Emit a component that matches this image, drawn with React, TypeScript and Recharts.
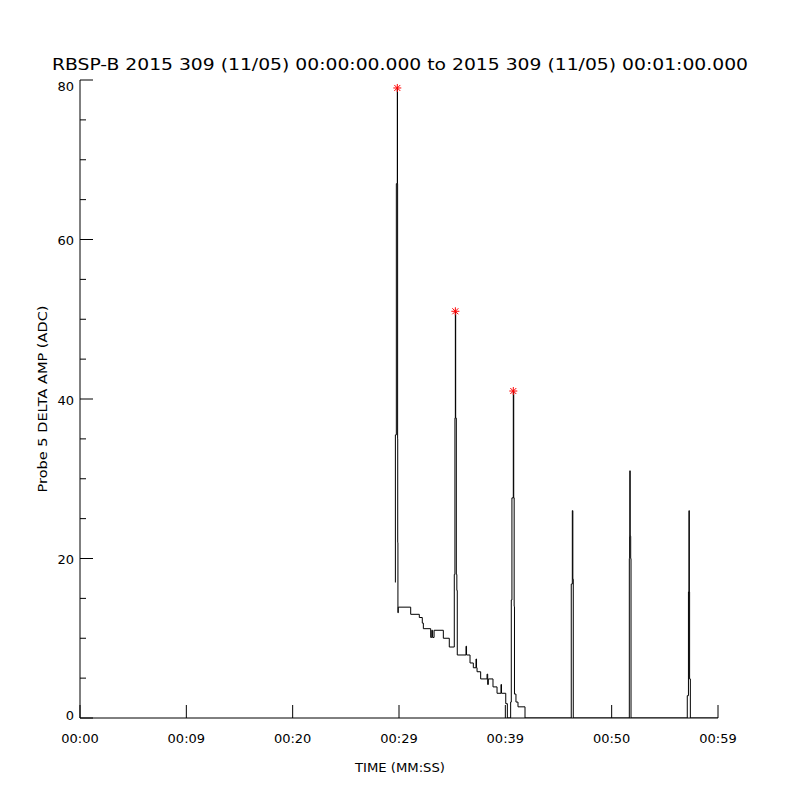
import { ComposedChart, Line, Scatter, XAxis, YAxis } from 'recharts';

const TITLE = 'RBSP-B 2015 309 (11/05) 00:00:00.000 to 2015 309 (11/05) 00:01:00.000';
const X_TITLE = 'TIME (MM:SS)';
const Y_TITLE = 'Probe 5 DELTA AMP (ADC)';

const timeTicks = [0, 10, 20, 30, 40, 50, 60];
const timeLabels = ['00:00', '00:09', '00:20', '00:29', '00:39', '00:50', '00:59'];
const ampTicks = [0, 5, 10, 15, 20, 25, 30, 35, 40, 45, 50, 55, 60, 65, 70, 75, 80];

// seconds since 00:00:00 and amplitude (ADC)
const sampleTimes = [
  29.65, 29.66, 29.75, 29.84, 29.86, 29.87, 29.88, 29.9, 29.93, 31.1,
  31.91, 32.19, 32.29, 32.98, 33.08, 33.16, 33.3, 34.17, 34.73, 35.2,
  35.26, 35.3, 35.33, 35.39, 35.44, 35.48, 36.3, 36.35, 36.68, 36.99,
  37.24, 37.29, 37.34, 37.68, 38.28, 38.34, 38.4, 38.84, 39.22, 39.59,
  39.64, 40.04, 40.19, 40.5, 40.56, 40.62, 40.75, 40.79, 40.83, 40.86,
  41.0, 41.19, 41.85, 46.2, 46.3, 46.35, 46.39, 51.66, 51.69, 51.71,
  51.74, 51.79, 51.82, 57.11, 57.22, 57.27, 57.3, 57.33, 57.4, 60,
];
const sampleAmps = [
  17, 35.5, 67, 79, 67, 35, 22, 13.2, 13.9, 13.0,
  12.6, 11.9, 11.2, 10.1, 11.0, 10.1, 11.0, 10.0, 8.9, 18,
  37.6, 51, 37.6, 18, 16, 7.9, 9.0, 7.9, 6.9, 6.3,
  7.4, 6.3, 5.8, 4.9, 5.5, 4.2, 4.9, 3.9, 3.1, 4.2,
  3.1, 1.8, 0, 2, 14.8, 27.6, 41, 27.6, 14, 3,
  2.0, 1.4, 0, 16.8, 26, 17.4, 0, 20, 22.8, 31,
  22.8, 20, 0, 2.8, 15.8, 26, 15.8, 4.9, 0, 0,
];

const peakTimes = [29.84, 35.3, 40.75];
const peakAmps = [79, 51, 41];

const series = sampleTimes.map((t, i) => ({ t, amp: sampleAmps[i] }));
const peaks = peakTimes.map((t, i) => ({ t, amp: peakAmps[i] }));

const FONT = '"DejaVu Sans", sans-serif';
const MAJOR = 13;
const MINOR = 6;

function BottomTick(props: any) {
  const { x, y, payload } = props;
  const label = timeLabels[timeTicks.indexOf(payload.value)];
  return (
    <g>
      <line x1={x} y1={y} x2={x} y2={y - MAJOR} stroke="#000" />
      <text x={x} y={y + 20} textAnchor="middle" dominantBaseline="central" fontSize={13} fontFamily={FONT} fill="#000">
        {label}
      </text>
    </g>
  );
}

function TopTick(props: any) {
  const { x, y } = props;
  return <line x1={x} y1={y} x2={x} y2={y + MAJOR} stroke="#000" />;
}

function LeftTick(props: any) {
  const { x, y, payload } = props;
  const major = payload.value % 20 === 0;
  // IDL nudges the end labels inward a little
  const shift = payload.value === 80 ? 6 : payload.value === 0 ? -3 : 1;
  return (
    <g>
      <line x1={x} y1={y} x2={x + (major ? MAJOR : MINOR)} y2={y} stroke="#000" />
      {major && (
        <text x={x - 6} y={y + shift} textAnchor="end" dominantBaseline="central" fontSize={13} fontFamily={FONT} fill="#000">
          {payload.value}
        </text>
      )}
    </g>
  );
}

function RightTick(props: any) {
  const { x, y, payload } = props;
  const major = payload.value % 20 === 0;
  return <line x1={x} y1={y} x2={x - (major ? MAJOR : MINOR)} y2={y} stroke="#000" />;
}

function Asterisk(props: any) {
  const { cx, cy } = props;
  return (
    <g stroke="#ff0000" strokeWidth={1}>
      <line x1={cx - 4} y1={cy} x2={cx + 4} y2={cy} />
      <line x1={cx} y1={cy - 4} x2={cx} y2={cy + 4} />
      <line x1={cx - 3} y1={cy - 3} x2={cx + 3} y2={cy + 3} />
      <line x1={cx - 3} y1={cy + 3} x2={cx + 3} y2={cy - 3} />
    </g>
  );
}

export default function App() {
  return (
    <div style={{ position: 'absolute', left: 0, top: 0, width: 800, height: 800, background: '#fff' }}>
      <ComposedChart width={800} height={800} margin={{ top: 80, right: 82, bottom: 0, left: 0 }}>
        <XAxis
          xAxisId="b"
          dataKey="t"
          type="number"
          domain={[0, 60]}
          ticks={timeTicks}
          interval={0}
          height={82}
          tickSize={0}
          tickMargin={0}
          tickLine={false}
          tick={<BottomTick />}
          axisLine={{ stroke: '#000' }}
          allowDataOverflow
        />
        <XAxis
          xAxisId="t"
          orientation="top"
          type="number"
          domain={[0, 60]}
          ticks={timeTicks}
          interval={0}
          height={0}
          tickSize={0}
          tickMargin={0}
          tickLine={false}
          tick={<TopTick />}
          axisLine={{ stroke: '#000' }}
          allowDataOverflow
        />
        <YAxis
          yAxisId="l"
          dataKey="amp"
          type="number"
          domain={[0, 80]}
          ticks={ampTicks}
          interval={0}
          width={80}
          tickSize={0}
          tickMargin={0}
          tickLine={false}
          tick={<LeftTick />}
          axisLine={{ stroke: '#000' }}
          allowDataOverflow
        />
        <YAxis
          yAxisId="r"
          orientation="right"
          type="number"
          domain={[0, 80]}
          ticks={ampTicks}
          interval={0}
          width={0}
          tickSize={0}
          tickMargin={0}
          tickLine={false}
          tick={<RightTick />}
          axisLine={{ stroke: '#000' }}
          allowDataOverflow
        />
        <Line
          xAxisId="b"
          yAxisId="l"
          data={series}
          dataKey="amp"
          type="stepAfter"
          stroke="#000"
          strokeWidth={1}
          dot={false}
          activeDot={false}
          isAnimationActive={false}
        />
        <Scatter
          xAxisId="b"
          yAxisId="l"
          data={peaks}
          dataKey="amp"
          shape={<Asterisk />}
          isAnimationActive={false}
        />
      </ComposedChart>
      <svg width={800} height={800} style={{ position: 'absolute', left: 0, top: 0, pointerEvents: 'none' }}>
        <text x={52} y={70} fontSize={15} fontFamily={FONT} fill="#000" textLength={696} lengthAdjust="spacingAndGlyphs">
          {TITLE}
        </text>
        <text x={400} y={767} textAnchor="middle" dominantBaseline="central" fontSize={13} fontFamily={FONT} fill="#000" textLength={90} lengthAdjust="spacingAndGlyphs">
          {X_TITLE}
        </text>
        <text
          x={42}
          y={399}
          transform="rotate(-90 42 399)"
          textAnchor="middle"
          dominantBaseline="central"
          fontSize={13}
          fontFamily={FONT}
          fill="#000"
          textLength={187}
          lengthAdjust="spacingAndGlyphs"
        >
          {Y_TITLE}
        </text>
      </svg>
    </div>
  );
}
